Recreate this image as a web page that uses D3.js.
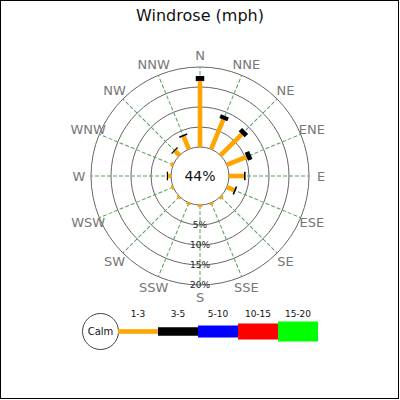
<!DOCTYPE html>
<html>
<head>
<meta charset="utf-8">
<script src="https://cdn.jsdelivr.net/npm/d3@7"></script>
<style>
  body { margin: 0; background: #fff; }
  text { font-family: "DejaVu Sans", sans-serif; }
</style>
</head>
<body>
<svg id="chart" width="400" height="400"></svg>
<script>
// wind rose data (percent of observations)
const directions = ["N", "NNE", "NE", "ENE", "E", "ESE", "SE", "SSE",
                    "S", "SSW", "SW", "WSW", "W", "WNW", "NW", "NNW"];
const speedBins = ["1-3", "3-5", "5-10", "10-15", "15-20"];
const binColors = ["orange", "black", "blue", "red", "#00ff00"];
const calmPct = 44;

const freq1to3 = [16.5, 8, 7.5, 5.3, 3.75, 2, 0.6, 0.5, 0.5, 0.5, 0.5, 0.5, 0.75, 0.6, 1.6, 3.5];
const freq3to5 = [1.25, 1, 1.2, 1.2, 0.4, 0.4, 0, 0, 0, 0, 0, 0, 0.3, 0, 0.3, 0.4];
const freq5to10 = new Array(16).fill(0);
const freq10to15 = new Array(16).fill(0);
const freq15to20 = new Array(16).fill(0);

const ringTicks = [5, 10, 15, 20];

const series = [freq1to3, freq3to5, freq5to10, freq10to15, freq15to20];
const table = directions.map((dir, i) => {
  const row = { dir };
  speedBins.forEach((b, j) => row[b] = series[j][i]);
  return row;
});

const svg = d3.select("#chart");
const cx = 200, cy = 176,
      innerR = 29, outerR = 109,
      barWidths = [4.6, 8.5, 12, 16, 20];

svg.append("rect")
  .attr("x", 0.5).attr("y", 0.5)
  .attr("width", 398).attr("height", 398)
  .attr("fill", "#fff").attr("stroke", "#000");

svg.append("text")
  .attr("x", 200).attr("y", 21)
  .attr("text-anchor", "middle")
  .attr("font-size", 16)
  .attr("fill", "#111")
  .text("Windrose (mph)");

const r = d3.scaleLinear().domain([0, 20]).range([innerR, outerR]);
const angle = d3.scaleBand().domain(directions).range([0, 360]).align(0);
const angleOf = d => angle(d) + angle.bandwidth() * 0; // centred on the direction

const g = svg.append("g").attr("transform", "translate(" + cx + "," + cy + ")");

// rings
g.append("g").selectAll("circle")
  .data(ringTicks)
  .enter().append("circle")
    .attr("r", d => r(d))
    .attr("fill", "none")
    .attr("stroke", "#666")
    .attr("stroke-width", 1);

g.append("circle")
  .attr("r", innerR)
  .attr("fill", "none")
  .attr("stroke", "#666");

// spokes
g.append("g").selectAll("line")
  .data(directions)
  .enter().append("line")
    .attr("transform", d => "rotate(" + (angleOf(d) - 90) + ")")
    .attr("x1", innerR).attr("x2", outerR)
    .attr("stroke", "#5a9e5a")
    .attr("stroke-width", 1)
    .attr("stroke-dasharray", "4,2");

// stacked bars
const stack = d3.stack().keys(speedBins);
const layers = stack(table);

g.append("g").selectAll("g")
  .data(layers)
  .enter().append("g")
    .attr("fill", (d, i) => binColors[i])
  .selectAll("rect")
  .data((d, i) => d.map(v => ({ v, w: barWidths[i] })))
  .enter().append("rect")
    .filter(d => d.v[1] - d.v[0] > 0)
    .attr("transform", d => "rotate(" + (angleOf(d.v.data.dir) - 90) + ")")
    .attr("x", d => r(d.v[0]))
    .attr("width", d => r(d.v[1]) - r(d.v[0]))
    .attr("y", d => -d.w / 2)
    .attr("height", d => d.w);

// ring labels
g.append("g").selectAll("text")
  .data(ringTicks)
  .enter().append("text")
    .attr("x", 0)
    .attr("y", d => r(d))
    .attr("dy", "0.35em")
    .attr("text-anchor", "middle")
    .attr("font-size", 9)
    .attr("fill", "#222")
    .text(d => d + "%");

// direction labels
const labelR = 121;
g.append("g").selectAll("text")
  .data(directions)
  .enter().append("text")
    .attr("x", d => labelR * Math.sin(angleOf(d) * Math.PI / 180))
    .attr("y", d => -labelR * Math.cos(angleOf(d) * Math.PI / 180))
    .attr("dy", "0.35em")
    .attr("text-anchor", "middle")
    .attr("font-size", 13)
    .attr("fill", "#777")
    .text(d => d);

g.append("text")
  .attr("dy", "0.35em")
  .attr("text-anchor", "middle")
  .attr("font-size", 14)
  .attr("fill", "#111")
  .text(calmPct + "%");

// legend
const legend = svg.append("g");
const lx = d3.scaleBand().domain(speedBins).range([118, 318]);
const ly = 331.5;

legend.append("circle")
  .attr("cx", 100.5).attr("cy", ly).attr("r", 18)
  .attr("fill", "#fff").attr("stroke", "#444");

legend.append("text")
  .attr("x", 100.5).attr("y", ly).attr("dy", "0.35em")
  .attr("text-anchor", "middle")
  .attr("font-size", 10)
  .attr("fill", "#111")
  .text("Calm");

legend.selectAll("rect")
  .data(speedBins)
  .enter().append("rect")
    .attr("x", d => lx(d))
    .attr("width", lx.bandwidth())
    .attr("y", (d, i) => ly - barWidths[i] / 2)
    .attr("height", (d, i) => barWidths[i])
    .attr("fill", (d, i) => binColors[i]);

legend.selectAll("text.bin")
  .data(speedBins)
  .enter().append("text")
    .attr("class", "bin")
    .attr("x", d => lx(d) + lx.bandwidth() / 2)
    .attr("y", 317)
    .attr("text-anchor", "middle")
    .attr("font-size", 9)
    .attr("fill", "#111")
    .text(d => d);
</script>
</body>
</html>
